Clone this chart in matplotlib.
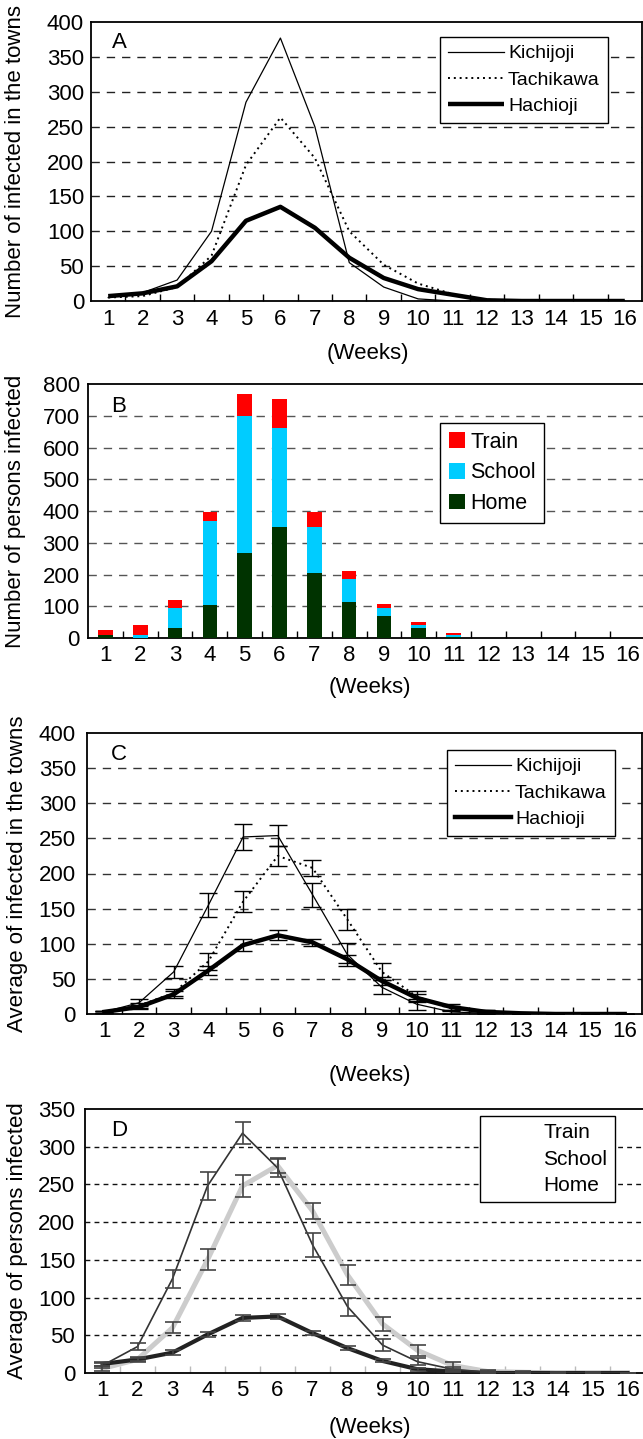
import matplotlib
matplotlib.use("Agg")
import matplotlib.pyplot as plt
from matplotlib.lines import Line2D
from matplotlib.patches import Patch
import numpy as np

plt.rcParams['font.family'] = ['Liberation Sans', 'DejaVu Sans']

weeks = list(range(1, 17))
week_labels = [str(w) for w in weeks]

# Panel A
kichijoji_A = [5, 12, 30, 100, 285, 377, 250, 55, 20, 3, 0, 0, 0, 0, 0, 0]
tachikawa_A = [5, 7, 20, 65, 195, 263, 205, 100, 52, 25, 10, 2, 0, 0, 0, 0]
hachioji_A = [7, 11, 21, 57, 115, 135, 105, 62, 33, 17, 9, 1, 0, 0, 0, 0]

# Panel B
home_B = [8, 1, 30, 103, 267, 349, 204, 112, 68, 30, 2, 0, 0, 0, 0, 0]
school_B = [0, 7, 65, 265, 432, 312, 145, 73, 27, 10, 6, 0, 0, 0, 0, 0]
train_B = [18, 34, 24, 28, 70, 92, 47, 25, 13, 9, 7, 0, 0, 0, 0, 0]

# Panel C
kichijoji_C = [3, 16, 60, 155, 252, 254, 170, 85, 38, 14, 3, 1, 0, 0, 0, 0]
kichijoji_C_err = [1, 5, 9, 17, 18, 15, 17, 16, 10, 8, 3, 1, 0, 0, 0, 0]
tachikawa_C = [3, 12, 30, 75, 160, 225, 208, 135, 60, 25, 8, 3, 1, 0, 0, 0]
tachikawa_C_err = [1, 3, 5, 12, 15, 14, 11, 15, 12, 8, 4, 2, 1, 0, 0, 0]
hachioji_C = [3, 10, 28, 62, 98, 112, 102, 78, 47, 23, 10, 3, 1, 0, 0, 0]
hachioji_C_err = [1, 3, 5, 6, 9, 7, 5, 6, 6, 5, 4, 2, 1, 0, 0, 0]

# Panel D
train_D = [10, 35, 125, 248, 318, 272, 170, 88, 37, 15, 5, 1, 0, 0, 0, 0]
train_D_err = [3, 5, 12, 19, 15, 12, 16, 12, 8, 5, 3, 1, 0, 0, 0, 0]
school_D = [6, 18, 60, 150, 248, 275, 215, 130, 65, 30, 10, 2, 1, 0, 0, 0]
school_D_err = [3, 3, 7, 14, 15, 10, 11, 13, 9, 7, 5, 2, 1, 0, 0, 0]
home_D = [12, 18, 27, 51, 73, 75, 53, 33, 16, 5, 2, 0, 0, 0, 0, 0]
home_D_err = [3, 2, 3, 3, 4, 3, 3, 3, 2, 2, 1, 1, 1, 1, 1, 0]

W, H = 643, 1439
fig = plt.figure(figsize=(W / 100, H / 100), dpi=100)

TICK_FS = 16
LAB_FS = 16
LEG_FS = 14


def px_axes(l, t, r, b):
    return fig.add_axes([l / W, 1 - b / H, (r - l) / W, (b - t) / H])


def style_axes(ax, ymax, ystep, grid_ls, grid_color, ypad, xpad, tick_color='k'):
    ax.set_xlim(0.5, 16.5)
    ax.set_ylim(0, ymax)
    ax.set_xticks(weeks)
    ax.set_xticklabels(week_labels)
    ax.set_xticks(np.arange(1.5, 16.5, 1.0), minor=True)
    ax.tick_params(axis='x', which='major', length=0, labelsize=TICK_FS, pad=xpad)
    ax.tick_params(axis='x', which='minor', direction='in', length=5, width=1, color=tick_color)
    ax.set_yticks(np.arange(0, ymax + 1, ystep))
    ax.tick_params(axis='y', which='major', length=0, labelsize=TICK_FS, pad=ypad)
    for v in np.arange(ystep, ymax, ystep):
        ax.axhline(v, color=grid_color, lw=1.0, linestyle=grid_ls, zorder=0.5)
    for s in ax.spines.values():
        s.set_linewidth(1.3)
        s.set_color('k')


def fig_legend(ax, handles, labels, x, y, fs=LEG_FS, **kw):
    leg = ax.legend(handles, labels, loc='upper left',
                    bbox_to_anchor=(x / W, 1 - y / H), bbox_transform=fig.transFigure,
                    fontsize=fs, frameon=True, fancybox=False, shadow=False,
                    borderaxespad=0, **kw)
    fr = leg.get_frame()
    fr.set_edgecolor('k')
    fr.set_linewidth(1.0)
    fr.set_facecolor('white')
    fr.set_alpha(1)
    leg.set_zorder(10)
    return leg


def ylab(text, x, ytop, ybot):
    fig.text(x / W, 1 - ((ytop + ybot) / 2) / H, text, rotation=90, fontsize=LAB_FS,
             ha='center', va='center')


def weeks_lab(x, y):
    fig.text(x / W, 1 - y / H, '(Weeks)', fontsize=LAB_FS, ha='center', va='center')


def panel_letter(ax, letter, x, y):
    fig.text(x / W, 1 - y / H, letter, fontsize=LAB_FS, ha='center', va='center')


# ---------------- Panel A ----------------
axA = px_axes(91, 22, 642, 301)
style_axes(axA, 400, 50, (0, (6, 5)), '#222222', 5, 6)
lk, = axA.plot(weeks, kichijoji_A, color='k', lw=0.9, zorder=3)
lt, = axA.plot(weeks, tachikawa_A, color='k', lw=1.4, linestyle=(0, (1, 2)), zorder=3)
lh, = axA.plot(weeks, hachioji_A, color='k', lw=3.2, zorder=4, solid_capstyle='butt')
fig_legend(axA, [lk, lt, lh], ['Kichijoji', 'Tachikawa', 'Hachioji'], 440, 37,
           handlelength=2.9, handletextpad=0.2, labelspacing=0.45, borderpad=0.4)
ylab('Number of infected in the towns', 16, 22, 301)
weeks_lab(368, 354)
panel_letter(axA, 'A', 119, 42)

# ---------------- Panel B ----------------
axB = px_axes(88, 384, 645, 638)
style_axes(axB, 800, 100, (0, (6, 5)), '#555555', 6, 5)
bw = 0.42
c_home, c_school, c_train = '#003300', '#00CCFF', '#FF0000'
axB.bar(weeks, home_B, width=bw, color=c_home, zorder=3)
axB.bar(weeks, school_B, width=bw, bottom=home_B, color=c_school, zorder=3)
bot2 = [h + s for h, s in zip(home_B, school_B)]
axB.bar(weeks, train_B, width=bw, bottom=bot2, color=c_train, zorder=3)
axB.spines['right'].set_visible(False)
hB = [Patch(facecolor=c_train), Patch(facecolor=c_school), Patch(facecolor=c_home)]
fig_legend(axB, hB, ['Train', 'School', 'Home'], 440, 423, fs=15.5,
           handlelength=0.75, handleheight=0.75, handletextpad=0.25, labelspacing=0.45,
           borderpad=0.4)
ylab('Number of persons infected', 16, 384, 638)
weeks_lab(370, 688)
panel_letter(axB, 'B', 119, 407)

# ---------------- Panel C ----------------
axC = px_axes(87, 733, 642, 1014)
style_axes(axC, 400, 50, (0, (6, 5)), '#333333', 8, 5)
for y, e in [(kichijoji_C, kichijoji_C_err), (tachikawa_C, tachikawa_C_err),
             (hachioji_C, hachioji_C_err)]:
    axC.errorbar(weeks, y, yerr=e, fmt='none', ecolor='k', elinewidth=1.0,
                 capsize=6.5, capthick=1.0, zorder=5)
lk, = axC.plot(weeks, kichijoji_C, color='k', lw=0.9, zorder=3)
lt, = axC.plot(weeks, tachikawa_C, color='k', lw=1.4, linestyle=(0, (1, 2)), zorder=3)
lh, = axC.plot(weeks, hachioji_C, color='k', lw=3.2, zorder=4)
fig_legend(axC, [lk, lt, lh], ['Kichijoji', 'Tachikawa', 'Hachioji'], 447, 750,
           handlelength=2.9, handletextpad=0.2, labelspacing=0.45, borderpad=0.4)
ylab('Average of infected in the towns', 18, 733, 1014)
weeks_lab(370, 1075)
panel_letter(axC, 'C', 119, 755)

# ---------------- Panel D ----------------
axD = px_axes(85, 1109, 645, 1373)
style_axes(axD, 350, 50, (0, (3.5, 3)), '#111111', 7, 5, tick_color='#bbbbbb')
axD.spines['right'].set_visible(False)
ls, = axD.plot(weeks, school_D, color='#cccccc', lw=3.6, zorder=3)
lho, = axD.plot(weeks, home_D, color='#222222', lw=3.0, zorder=4)
ltr, = axD.plot(weeks, train_D, color='#333333', lw=1.2, zorder=4)
for y, e in [(train_D, train_D_err), (school_D, school_D_err), (home_D, home_D_err)]:
    axD.errorbar(weeks, y, yerr=e, fmt='none', ecolor='#444444', elinewidth=1.2,
                 capsize=6, capthick=1.2, zorder=5)
blank = [Line2D([], [], color='none') for _ in range(3)]
fig_legend(axD, blank, ['Train', 'School', 'Home'], 480, 1116, fs=15,
           handlelength=2.4, handletextpad=0.3, labelspacing=0.35, borderpad=0.35)
ylab('Average of persons infected', 18, 1109, 1373)
weeks_lab(370, 1427)
panel_letter(axD, 'D', 119, 1131)

fig.savefig('out.png', dpi=100)
